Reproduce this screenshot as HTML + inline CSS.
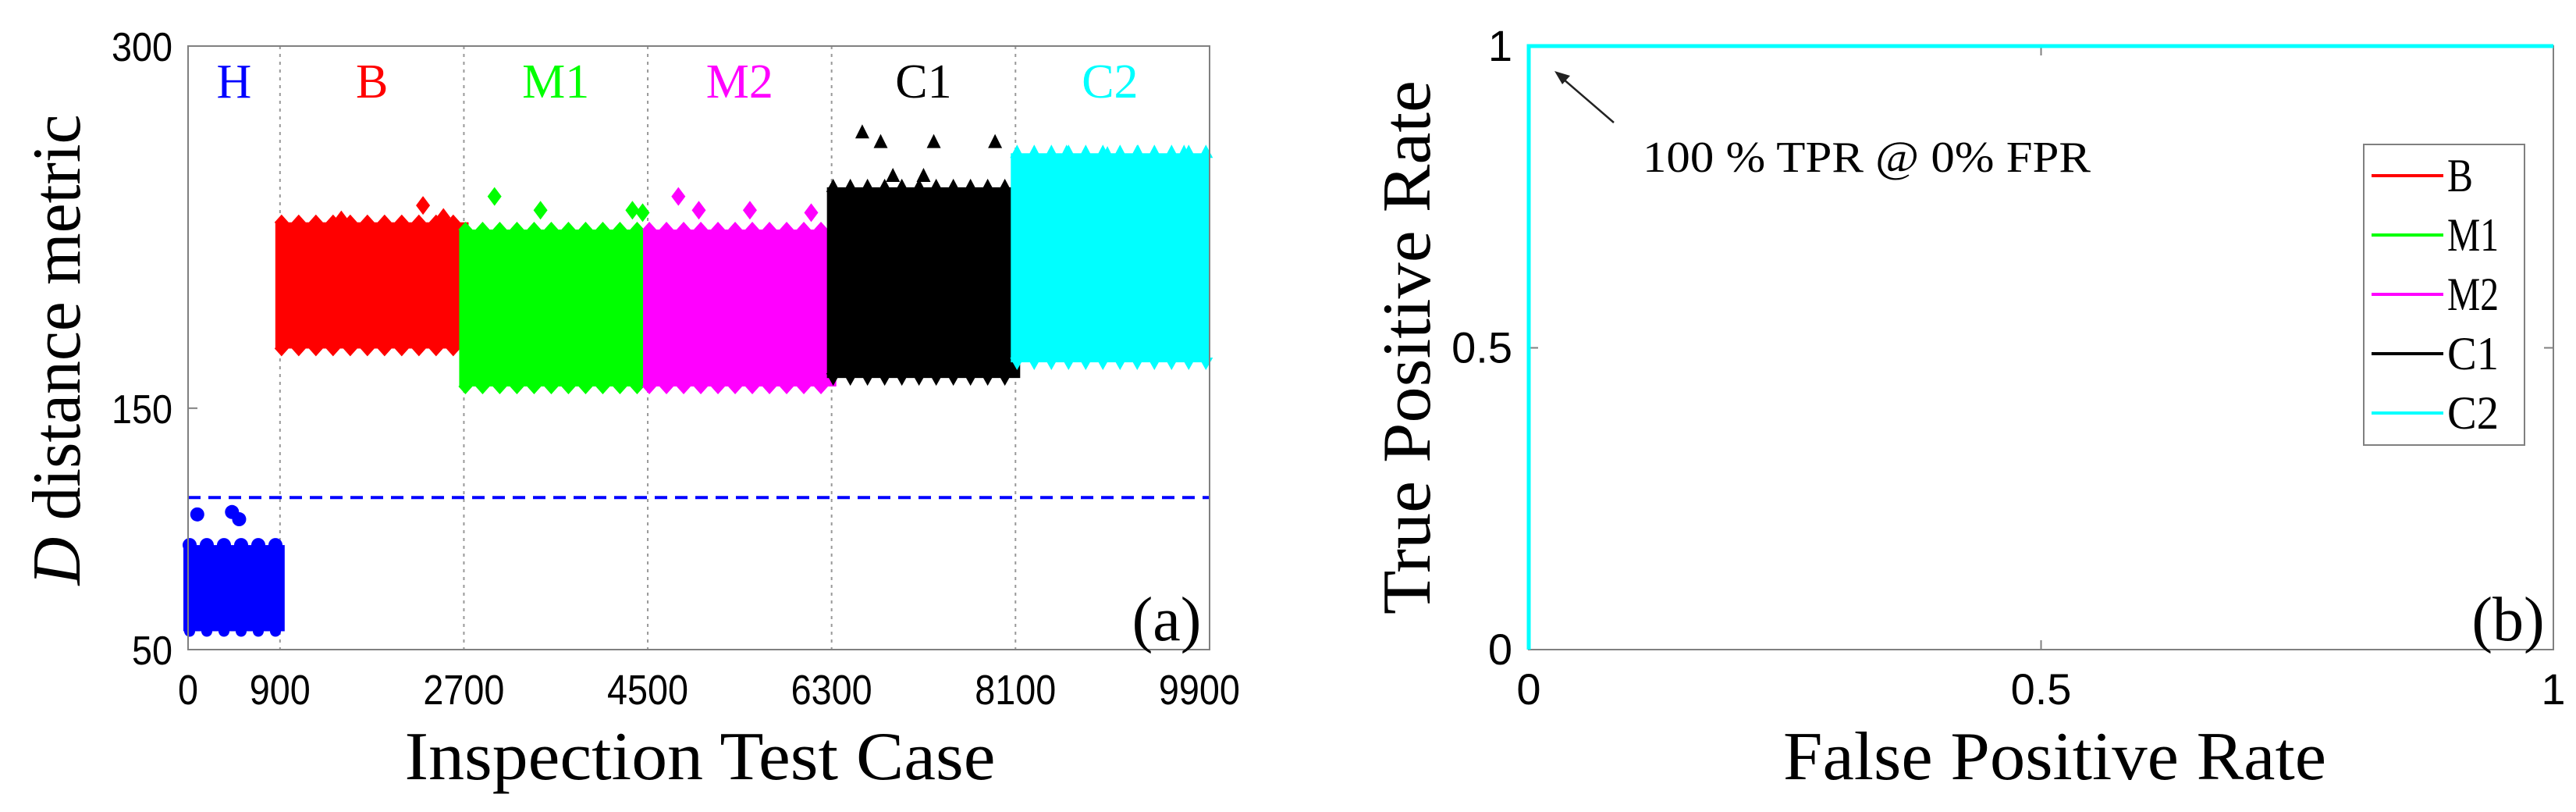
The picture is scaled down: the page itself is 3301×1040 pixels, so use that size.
<!DOCTYPE html>
<html><head><meta charset="utf-8"><style>
html,body{margin:0;padding:0;background:#fff;}
svg{display:block;font-family:"Liberation Serif",serif;}
.tk{font-family:"Liberation Sans",sans-serif;}
</style></head><body>
<svg id="fig" width="3301" height="1040" viewBox="0 0 3301 1040" xmlns="http://www.w3.org/2000/svg"></svg>
<script>
// ---- Panel (a) data ----
const classes = ["H","B","M1","M2","C1","C2"];
const classColors = ["#0000ff","#ff0000","#00ff00","#ff00ff","#000000","#00ffff"];
const classStart = [0,900,2700,4500,6300,8100];
const classEnd = [900,2700,4500,6300,8100,9950];
const classLow = [57.6,174.7,159,159,162.5,169];
const classHigh = [93.3,227,224,224,241.5,255.6];
const outlierX = [[90,430,500],[2300,1500,2500],[3000,3450,4350,4450],[4800,5000,5500,6100],[6600,6780,7300,7900,7200,6900],[8600,9300,9750,9000]];
const outlierY = [[106,107,104],[234,228,229],[237.7,232,232,231],[237.7,232,232,231],[264,260,260,260,246,246],[255.6,255.6,255.6,255]];
const threshold = 113;
const xTicksA = [0,900,2700,4500,6300,8100,9900];
const yTicksA = [50,150,300];
// ---- Panel (b) data ----
const rocSeries = ["B","M1","M2","C1","C2"];
const rocColors = ["#ff0000","#00ff00","#ff00ff","#000000","#00ffff"];
const rocFPR = [0,0,1];
const rocTPR = [0,1,1];
const xTicksB = [0,0.5,1];
const yTicksB = [0,0.5,1];
const xTickLabelsB = ["0","0.5","1"];
const yTickLabelsB = ["0","0.5","1"];

const NS="http://www.w3.org/2000/svg";
const svg=document.getElementById('fig');
function mk(tag,attrs,parent){const e=document.createElementNS(NS,tag);for(const k in attrs)e.setAttribute(k,attrs[k]);(parent||svg).appendChild(e);return e;}
function txt(s,attrs,parent){const e=mk('text',attrs,parent);e.textContent=s;return e;}

// axes A
const AL=241,AR=1550,AT=59,AB=832;
const xA=v=>AL+(v-0)/(10000-0)*(AR-AL);
const yA=v=>AB-(v-50)/(300-50)*(AB-AT);
const gA=mk('g',{});


for(let i=1;i<classStart.length;i++){
  const l=mk('line',{x1:xA(classStart[i]),x2:xA(classStart[i]),y1:AT,y2:AB,stroke:'#999','stroke-width':2,'stroke-dasharray':'4 6'},gA);
  
  
}
for(let i=0;i<classes.length;i++){
  const g=mk('g',{fill:classColors[i]},gA);
  
  
  const x0=xA(classStart[i])-6,x1=xA(classEnd[i])+6;
  const y0=yA(classHigh[i]),y1=yA(classLow[i]);
  mk('rect',{x:x0,y:y0,width:x1-x0,height:y1-y0},g);
  for(let x=x0+8;x<x1;x+=22){
    if(i===0){mk('circle',{cx:x,cy:y0,r:9},g);mk('circle',{cx:x,cy:y1,r:7},g);}
    else if(i>=4){mk('polygon',{points:`${x},${y0-11} ${x+9},${y0+6} ${x-9},${y0+6}`},g);mk('polygon',{points:`${x},${y1+10} ${x+9},${y1-6} ${x-9},${y1-6}`},g);}
    else {mk('polygon',{points:`${x},${y0-10} ${x+9},${y0} ${x},${y0+10} ${x-9},${y0}`},g);mk('polygon',{points:`${x},${y1-10} ${x+9},${y1} ${x},${y1+10} ${x-9},${y1}`},g);}
  }
  for(let k=0;k<outlierX[i].length;k++){
    const cx=xA(outlierX[i][k]),cy=yA(outlierY[i][k]);
    let m;
    if(i===0) m=mk('circle',{cx:cx,cy:cy,r:9},g);
    else if(i>=4) m=mk('polygon',{points:`${cx},${cy-11} ${cx+9},${cy+7} ${cx-9},${cy+7}`},g);
    else m=mk('polygon',{points:`${cx},${cy-12} ${cx+9},${cy} ${cx},${cy+12} ${cx-9},${cy}`},g);
    
    
  }
  const lab=txt(classes[i],{x:xA((classStart[i]+classEnd[i])/2),y:125,'font-size':62,fill:classColors[i],'text-anchor':'middle'},gA);
  
  
}
const th=mk('line',{x1:AL,x2:AR,y1:yA(threshold),y2:yA(threshold),stroke:'#0000ff','stroke-width':4,'stroke-dasharray':'16 10'},gA);


const boxA=mk('rect',{x:AL,y:AT,width:AR-AL,height:AB-AT,fill:'none',stroke:'#808080','stroke-width':2},gA);


for(const t of xTicksA){
  const l=txt(String(t),{x:xA(t),y:902,'font-size':54,'text-anchor':'middle','class':'tk',textLength:String(t).length*26,lengthAdjust:'spacingAndGlyphs'},gA);
  
  
}
for(const t of yTicksA){
  mk('line',{x1:AL,x2:AL+12,y1:yA(t),y2:yA(t),stroke:'#808080','stroke-width':2},gA);
  const l=txt(String(t),{x:221,y:yA(t)+19,'font-size':52,'text-anchor':'end','class':'tk',textLength:String(t).length*26,lengthAdjust:'spacingAndGlyphs'},gA);
  
  
}
let t1=txt('Inspection Test Case',{x:897,y:998,'font-size':88,'text-anchor':'middle',textLength:757,lengthAdjust:'spacingAndGlyphs'},gA);


let t2=mk('text',{x:0,y:0,'font-size':88,'text-anchor':'middle',transform:'translate(102,448) rotate(-90)',textLength:603,lengthAdjust:'spacingAndGlyphs'},gA);
t2.innerHTML='<tspan font-style="italic">D</tspan> distance metric';


let pa=txt('(a)',{x:1495,y:820,'font-size':80,'text-anchor':'middle'},gA);



// axes B
const BL=1959,BR=3272,BT=59,BB=832;
const xB=v=>BL+v*(BR-BL);
const yB=v=>BB-v*(BB-BT);
const gB=mk('g',{});


const boxB=mk('rect',{x:BL,y:BT,width:BR-BL,height:BB-BT,fill:'none',stroke:'#808080','stroke-width':2},gB);


for(let i=0;i<xTicksB.length;i++){
  const t=xTicksB[i];
  mk('line',{x1:xB(t),x2:xB(t),y1:BB,y2:BB-12,stroke:'#808080','stroke-width':2},gB);
  mk('line',{x1:xB(t),x2:xB(t),y1:BT,y2:BT+12,stroke:'#808080','stroke-width':2},gB);
  const l=txt(xTickLabelsB[i],{x:xB(t),y:902,'font-size':56,'text-anchor':'middle','class':'tk'},gB);
  
  
}
for(let i=0;i<yTicksB.length;i++){
  const t=yTicksB[i];
  mk('line',{x1:BL,x2:BL+12,y1:yB(t),y2:yB(t),stroke:'#808080','stroke-width':2},gB);
  mk('line',{x1:BR,x2:BR-12,y1:yB(t),y2:yB(t),stroke:'#808080','stroke-width':2},gB);
  const l=txt(yTickLabelsB[i],{x:1938,y:yB(t)+19,'font-size':56,'text-anchor':'end','class':'tk'},gB);
  
  
}
for(let s=0;s<rocSeries.length;s++){
  const pts=rocFPR.map((f,k)=>xB(f)+','+yB(rocTPR[k])).join(' ');
  const p=mk('polyline',{points:pts,fill:'none',stroke:rocColors[s],'stroke-width':5},gB);
  
  
}
const arr=mk('g',{},gB);


mk('line',{x1:2068,y1:157,x2:1996,y2:95,stroke:'#222','stroke-width':2.5},arr);
mk('polygon',{points:'1992,91 2012,97 2002,108',fill:'#222'},arr);
let an=txt('100 % TPR @ 0% FPR',{x:2105,y:220,'font-size':56,textLength:574,lengthAdjust:'spacingAndGlyphs'},gB);


const leg=mk('g',{},gB);


mk('rect',{x:3029,y:185,width:206,height:385,fill:'#fff',stroke:'#808080','stroke-width':2},leg);
for(let s=0;s<rocSeries.length;s++){
  const y=225+s*76;
  const e=mk('g',{},leg);
  
  
  mk('line',{x1:3039,x2:3131,y1:y,y2:y,stroke:rocColors[s],'stroke-width':4},e);
  txt(rocSeries[s],{x:3136,y:y+20,'font-size':60,textLength:rocSeries[s].length*33,lengthAdjust:'spacingAndGlyphs'},e);
}
let t3=txt('False Positive Rate',{x:2633,y:998,'font-size':88,'text-anchor':'middle',textLength:696,lengthAdjust:'spacingAndGlyphs'},gB);


let t4=txt('True Positive Rate',{x:0,y:0,'font-size':88,'text-anchor':'middle',transform:'translate(1832,445) rotate(-90)',textLength:684,lengthAdjust:'spacingAndGlyphs'},gB);


let pb=txt('(b)',{x:3214,y:820,'font-size':80,'text-anchor':'middle'},gB);


</script>
</body></html>
